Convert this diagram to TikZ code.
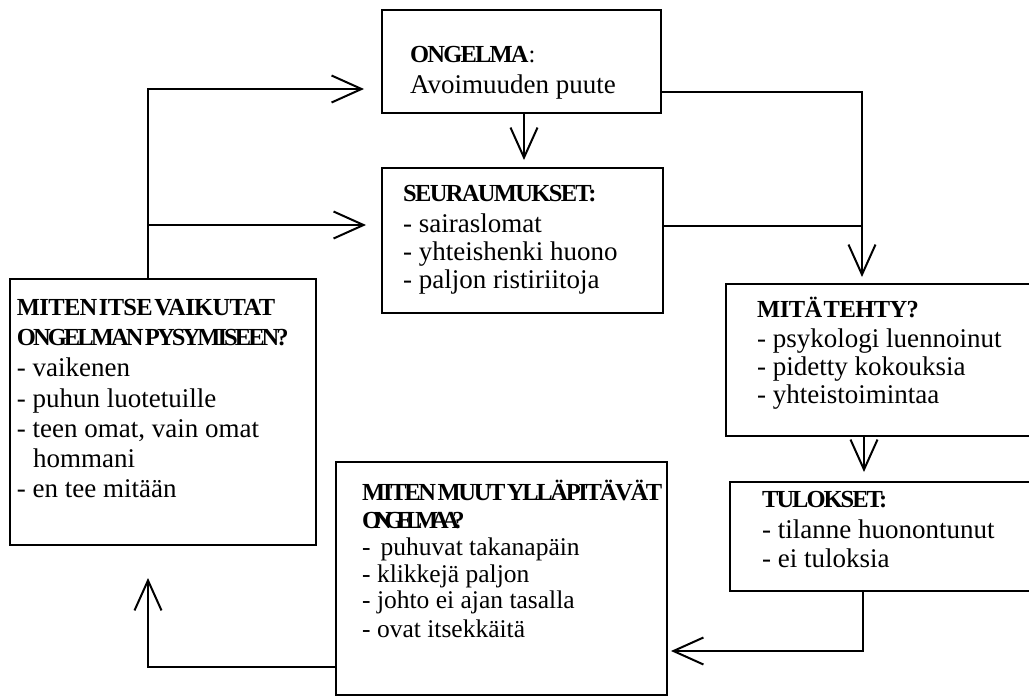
\documentclass[tikz,border=0pt]{standalone}
\usepackage{fontspec}
\setmainfont{Liberation Serif}
\usetikzlibrary{arrows.meta,calc}
\newcommand\hd[2]{{\fontsize{24.5}{24.5}\selectfont\bfseries\addfontfeature{LetterSpace=#1}\spaceskip=1.5pt\relax #2}}
\tikzset{
  box/.style={draw, line width=2.2pt, inner sep=0pt, outer sep=0pt},
  ln/.style={line width=2pt},
  conn/.style={line width=2pt, -{Straight Barb[length=30pt,width=27pt,line width=2pt]}},
  txt/.style={anchor=base west, inner sep=0pt, font=\fontsize{#1}{28}\selectfont},
  txt/.default=27
}
\begin{document}
\begin{tikzpicture}[x=1pt,y=-1pt]
\clip (0,0) rectangle (1029,697);
\fill[white] (0,0) rectangle (1029,697);
% boxes
\node[box, minimum width=279pt, minimum height=103pt] (ong)  at (521.5,61.5) {};
\node[box, minimum width=281pt, minimum height=145pt] (seu)  at (522.5,240.5) {};
\node[box, minimum width=314pt, minimum height=152pt] (mita) at (883,360) {};
\node[box, minimum width=310pt, minimum height=109pt] (tul)  at (885,536.5) {};
\node[box, minimum width=331pt, minimum height=233pt] (muut) at (501.5,578.5) {};
\node[box, minimum width=306pt, minimum height=266pt] (itse) at (163,412) {};
% texts
\node[txt] (ong1) at (410,62) {\hd{-7.4}{ONGELMA}{\fontsize{24.5}{24.5}\selectfont:}};
\node[txt] (ong2) at (410,93) {Avoimuuden puute};
\node[txt] (seu1) at (403,201) {\hd{-6.8}{SEURAUMUKSET:}};
\node[txt] (seu2) at (403,232) {- sairaslomat};
\node[txt] (seu3) at (403,260) {- yhteishenki huono};
\node[txt] (seu4) at (403,288) {- paljon ristiriitoja};
\node[txt] (mit1) at (757,317) {\hd{-2.3}{MITÄ TEHTY?}};
\node[txt] (mit2) at (757,347) {- psykologi luennoinut};
\node[txt] (mit3) at (757,375) {- pidetty kokouksia};
\node[txt] (mit4) at (757,403) {- yhteistoimintaa};
\node[txt] (tul1) at (762,507) {\hd{-8.2}{TULOKSET:}};
\node[txt] (tul2) at (762,538) {- tilanne huonontunut};
\node[txt] (tul3) at (762,567) {- ei tuloksia};
\node[txt] (mu1) at (362,500) {\hd{-9.4}{MITEN MUUT YLLÄPITÄVÄT}};
\node[txt] (mu2) at (362,528) {\hd{-29}{ONGELMAA?}};
\node[txt=25.5] (mu3) at (362,555) {-\hspace{10pt}puhuvat takanapäin};
\node[txt=25.5] (mu4) at (362,582) {- klikkejä paljon};
\node[txt=25.5] (mu5) at (362,608) {- johto ei ajan tasalla};
\node[txt=25.5] (mu6) at (362,637) {- ovat itsekkäitä};
\node[txt] (it1) at (16.7,315) {\hd{-2.6}{MITEN ITSE VAIKUTAT}};
\node[txt] (it2) at (16.7,345) {\hd{-11.9}{ONGELMAN PYSYMISEEN?}};
\node[txt] (it3) at (16.7,376) {- vaikenen};
\node[txt] (it4) at (16.7,407) {- puhun luotetuille};
\node[txt] (it5) at (16.7,437) {- teen omat, vain omat};
\node[txt] (it6) at (33,467) {hommani};
\node[txt] (it7) at (16.7,497) {- en tee mitään};
% connectors
\coordinate (jx) at ($(mita.north)+(-21,0)$);
\coordinate (s8) at ($(seu.west)+(0,-15.5)$);
\draw[conn, shorten >=8pt] ($(ong.south)+(2.5,0)$) coordinate (c1) -- (c1 |- seu.north);
\draw[conn, shorten >=7pt] ($(ong.east)+(0,30.5)$) -| (jx);
\draw[ln] ($(seu.east)+(0,-14.5)$) coordinate (c3) -- (c3 -| jx);
\draw[conn, shorten >=10pt] ($(mita.south)+(-19,0)$) coordinate (c4) -- (c4 |- tul.north);
\draw[conn, shorten >=4pt] ($(tul.south)+(-22,0)$) |- ($(muut.east)+(0,72.5)$);
\draw[conn, shorten >=33pt] ($(muut.west)+(0,88.5)$) -| ($(itse.south)+(-15,0)$);
\draw[conn, shorten >=18pt] ($(itse.north)+(-15,0)$) coordinate (c7) |- ($(ong.west)+(0,27.5)$);
\draw[conn, shorten >=16pt] (c7 |- s8) -- (s8);
\end{tikzpicture}
\end{document}
